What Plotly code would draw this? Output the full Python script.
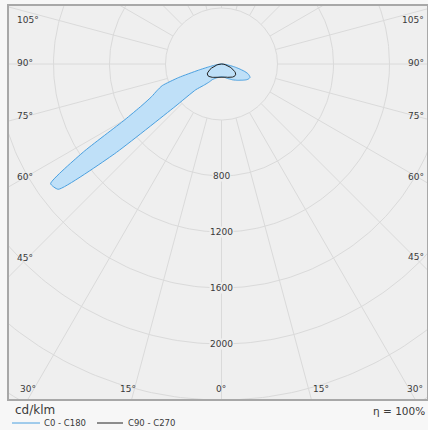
import numpy as np
import plotly.graph_objects as go

# ---------------- data (cd/klm) ----------------
gamma = [0, 5, 10, 15, 20, 25, 30, 35, 40, 45, 47.5, 50, 52.5, 55, 57.5, 60, 62.5,
         65, 67.5, 70, 72.5, 75, 77.5, 80, 85, 90]
c0 = [90, 92, 95, 100, 108, 116, 125, 138, 150, 165, 172, 180, 190, 200, 210, 218, 223,
      225, 215, 200, 170, 130, 95, 60, 25, 5]
c180 = [90, 92, 95, 100, 106, 115, 128, 160, 200, 260, 450, 1000, 1470, 1490, 1170, 800, 640,
        550, 500, 450, 320, 170, 90, 50, 20, 5]
c90_270 = [90, 91, 93, 96, 100, 105, 110, 116, 122, 126, 128, 128, 127, 124, 118, 110, 100,
           90, 78, 66, 55, 45, 35, 26, 12, 3]

ring_values = [400, 800, 1200, 1600, 2000, 2400, 2800]
ring_labels = ["800", "1200", "1600", "2000"]
spoke_step = 15
angle_labels = ["105°", "90°", "75°", "60°", "45°", "30°", "15°", "0°", "15°", "30°",
                "45°", "60°", "75°", "90°", "105°"]
legend_names = ["C0 - C180", "C90 - C270"]
legend_colors = ["#4aa0e0", "#222222"]
unit_text = "cd/klm"
eta_text = "η = 100%"

# ---------------- geometry ----------------
W, H = 428, 430
ML, MR, MT, MB = 9, 1, 6, 31
CX, CY = 221.5, 64.0          # centre in px
S = 56 / 400.0                # px per cd/klm
PW, PH = W - ML - MR, H - MT - MB
xmin = -(CX - ML) / S
xmax = xmin + PW / S
ymax = (CY - MT) / S
ymin = ymax - PH / S


def polar_xy(g_deg, r, side):
    g = np.radians(np.asarray(g_deg, float))
    r = np.asarray(r, float)
    return side * r * np.sin(g), -r * np.cos(g)


def paper(px, py):
    return (px - ML) / PW, (H - MB - py) / PH


fig = go.Figure()

grid_col = "#dadada"
# rings
t = np.linspace(0, 2 * np.pi, 361)
for rv in ring_values:
    fig.add_trace(go.Scatter(x=rv * np.cos(t), y=rv * np.sin(t), mode="lines",
                             line=dict(color=grid_col, width=1), hoverinfo="skip",
                             showlegend=False))
# spokes
for a in range(0, 360, spoke_step):
    ar = np.radians(a)
    r0, r1 = ring_values[0], 4000
    fig.add_trace(go.Scatter(x=[r0 * np.sin(ar), r1 * np.sin(ar)],
                             y=[-r0 * np.cos(ar), -r1 * np.cos(ar)], mode="lines",
                             line=dict(color=grid_col, width=1), hoverinfo="skip",
                             showlegend=False))

# C0 - C180 curve (closed: C180 side from 90 to 0, then C0 side from 0 to 90)
xl, yl = polar_xy(gamma[::-1], c180[::-1], -1)
xr, yr = polar_xy(gamma, c0, 1)
xs = np.concatenate([[0], xl, xr, [0]])
ys = np.concatenate([[0], yl, yr, [0]])
fig.add_trace(go.Scatter(x=xs, y=ys, mode="lines", fill="toself",
                         fillcolor="#bfe0f8",
                         line=dict(color=legend_colors[0], width=1, shape="spline", smoothing=0.5),
                         showlegend=False, hoverinfo="skip"))

# C90 - C270 curve
xl2, yl2 = polar_xy(gamma[::-1], c90_270[::-1], -1)
xr2, yr2 = polar_xy(gamma, c90_270, 1)
xs2 = np.concatenate([[0], xl2, xr2, [0]])
ys2 = np.concatenate([[0], yl2, yr2, [0]])
fig.add_trace(go.Scatter(x=xs2, y=ys2, mode="lines", line=dict(color=legend_colors[1], width=1),
                         showlegend=False, hoverinfo="skip"))

font_c = "#3a3a3a"
ann = []
# ring labels
for lab in ring_labels:
    ann.append(dict(x=0, y=-float(lab), xref="x", yref="y", text=lab, showarrow=False,
                    font=dict(size=9, color=font_c), bgcolor="#efefef", borderpad=0))

# angle labels (positions in px)
lab_pos = [(15, 20, "left"), (15, 63, "left"), (15, 116, "left"), (15, 177, "left"),
           (15, 258, "left"), (18, 389, "left"), (118, 389, "left"), (221, 389, "center"),
           (311, 389, "left"), (425, 389, "right"), (426, 257, "right"), (426, 177, "right"),
           (426, 116, "right"), (426, 63, "right"), (426, 20, "right")]
for txt, (px, py, al) in zip(angle_labels, lab_pos):
    xp, yp = paper(px, py)
    ann.append(dict(x=xp, y=yp, xref="paper", yref="paper", text=txt, showarrow=False,
                    xanchor=al, yanchor="middle", font=dict(size=9, color=font_c)))

xp, yp = paper(13, 410)
ann.append(dict(x=xp, y=yp, xref="paper", yref="paper", text=unit_text, showarrow=False,
                xanchor="left", yanchor="middle", font=dict(size=12, color=font_c)))
xp, yp = paper(427, 411)
ann.append(dict(x=xp, y=yp, xref="paper", yref="paper", text=eta_text, showarrow=False,
                xanchor="right", yanchor="middle", font=dict(size=10.5, color=font_c)))

# manual legend (line swatch + label)
shapes = []
leg_items = [(12, 40, 42), (97, 123, 126)]
for name, col, (x0, x1, xt) in zip(legend_names, legend_colors, leg_items):
    a0, b0 = paper(x0, 423)
    a1, _ = paper(x1, 423)
    shapes.append(dict(type="line", xref="paper", yref="paper", x0=a0, x1=a1, y0=b0, y1=b0,
                       line=dict(color=col, width=1)))
    at, bt = paper(xt, 423)
    ann.append(dict(x=at, y=bt, xref="paper", yref="paper", text=name, showarrow=False,
                    xanchor="left", yanchor="middle", font=dict(size=8.5, color=font_c)))

fig.update_layout(
    width=W, height=H, margin=dict(l=ML, r=MR, t=MT, b=MB, autoexpand=False),
    paper_bgcolor="#f7f7f7", plot_bgcolor="#efefef",
    font=dict(family="DejaVu Sans", size=9, color=font_c),
    xaxis=dict(range=[xmin, xmax], showgrid=False, zeroline=False, showticklabels=False,
               showline=True, mirror=True, linecolor="#a8a8a8", linewidth=1.5, fixedrange=True),
    yaxis=dict(range=[ymin, ymax], showgrid=False, zeroline=False, showticklabels=False,
               showline=True, mirror=True, linecolor="#a8a8a8", linewidth=1.5, fixedrange=True),
    showlegend=False,
    annotations=ann,
    shapes=shapes,
)

fig.write_html("out.html", config={"displayModeBar": False},
               post_script="document.body.style.margin='0';document.body.style.padding='0';")
